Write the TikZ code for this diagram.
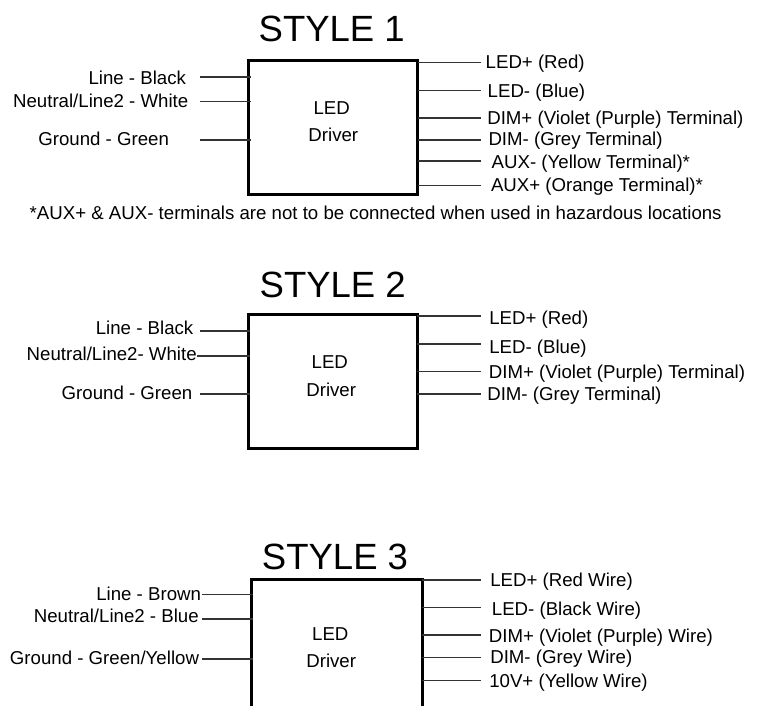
\documentclass[tikz,border=0pt]{standalone}
\usepackage{fontspec}
\setmainfont{Liberation Sans}
\tikzset{
  x=1pt,y=-1pt,
  lbl/.style={inner sep=0pt,outer sep=0pt,font=\fontsize{18.65}{20}\selectfont,text height=13.35pt,text depth=0pt},
  rlbl/.style={lbl,anchor=west},
  llbl/.style={lbl,anchor=east},
  ttl/.style={inner sep=0pt,font=\fontsize{36.5}{40}\selectfont,text height=26.2pt,text depth=0pt},
  driver/.style={draw,line width=3pt,anchor=north west,inner sep=0pt,outer sep=0pt,minimum width=169pt,minimum height=134pt},
  wire/.style={line width=1.6pt,black!80},
  lwire/.style={wire,shorten >=-2pt}
}
\begin{document}
\begin{tikzpicture}
\useasboundingbox (0,0) rectangle (761,706);
\clip (0,0) rectangle (761,706);
% STYLE 1
\node[ttl] (t1) at (331.7,28) {STYLE 1};
\node[driver] (b1) at (248.7,60.7) {};
\node[lbl] (b1a) at (331.7,107.7) {LED};
\node[lbl] (b1b) at (333.3,135) {Driver};
\node[llbl] (l11) at (186,77.7) {Line - Black};
\node[llbl] (l12) at (188.3,100.7) {Neutral/Line2 - White};
\node[llbl] (l13) at (169,138.7) {Ground - Green};
\coordinate (lw11) at (200,77.3);
\coordinate (lw12) at (200,101.7);
\coordinate (lw13) at (200,140);
\draw[lwire] (lw11) -- (lw11 -| b1.west);
\draw[lwire] (lw12) -- (lw12 -| b1.west);
\draw[lwire] (lw13) -- (lw13 -| b1.west);
\node[rlbl] (r11) at (485.7,62) {LED+ (Red)};
\node[rlbl] (r12) at (487.7,90.7) {LED- (Blue)};
\node[rlbl] (r13) at (487.3,118.3) {DIM+ (Violet (Purple) Terminal)};
\node[rlbl] (r14) at (488.5,139.3) {DIM- (Grey Terminal)};
\node[rlbl] (r15) at (491.7,161.7) {AUX- (Yellow Terminal)*};
\node[rlbl] (r16) at (491,185) {AUX+ (Orange Terminal)*};
\coordinate (rw11) at (480.7,62.7);
\coordinate (rw12) at (480.7,90.7);
\coordinate (rw13) at (480.7,118);
\coordinate (rw14) at (480.7,140);
\coordinate (rw15) at (480.7,161.3);
\coordinate (rw16) at (480.7,185.7);
\draw[wire] (b1.east |- rw11) -- (rw11);
\draw[wire] (b1.east |- rw12) -- (rw12);
\draw[wire] (b1.east |- rw13) -- (rw13);
\draw[wire] (b1.east |- rw14) -- (rw14);
\draw[wire] (b1.east |- rw15) -- (rw15);
\draw[wire] (b1.east |- rw16) -- (rw16);
\node[rlbl] (note) at (29.7,213.3) {*AUX+ \& AUX- terminals are not to be connected when used in hazardous locations};
% STYLE 2
\node[ttl] (t2) at (332.7,284) {STYLE 2};
\node[driver] (b2) at (248.3,314.3) {};
\node[lbl] (b2a) at (329.8,361.7) {LED};
\node[lbl] (b2b) at (331.2,390) {Driver};
\node[llbl] (l21) at (193.3,327.7) {Line - Black};
\node[llbl] (l22) at (196.7,354) {Neutral/Line2- White};
\node[llbl] (l23) at (192.3,392.7) {Ground - Green};
\coordinate (lw21) at (200,330.7);
\coordinate (lw22) at (197.3,355.7);
\coordinate (lw23) at (200,394);
\draw[lwire] (lw21) -- (lw21 -| b2.west);
\draw[lwire] (lw22) -- (lw22 -| b2.west);
\draw[lwire] (lw23) -- (lw23 -| b2.west);
\node[rlbl] (r21) at (489.3,318.3) {LED+ (Red)};
\node[rlbl] (r22) at (489.3,347.3) {LED- (Blue)};
\node[rlbl] (r23) at (488.9,371.7) {DIM+ (Violet (Purple) Terminal)};
\node[rlbl] (r24) at (487.3,394.3) {DIM- (Grey Terminal)};
\coordinate (rw21) at (480.7,316);
\coordinate (rw22) at (480.7,344);
\coordinate (rw23) at (480.7,371.3);
\coordinate (rw24) at (480.7,394);
\draw[wire] (b2.east |- rw21) -- (rw21);
\draw[wire] (b2.east |- rw22) -- (rw22);
\draw[wire] (b2.east |- rw23) -- (rw23);
\draw[wire] (b2.east |- rw24) -- (rw24);
% STYLE 3
\node[ttl] (t3) at (335,556) {STYLE 3};
\node[driver,minimum width=171pt] (b3) at (251,579.7) {};
\node[lbl] (b3a) at (330.3,634) {LED};
\node[lbl] (b3b) at (331.2,661) {Driver};
\node[llbl] (l31) at (201,594.3) {Line - Brown};
\node[llbl] (l32) at (198.7,615.7) {Neutral/Line2 - Blue};
\node[llbl] (l33) at (199,658.3) {Ground - Green/Yellow};
\coordinate (lw31) at (202.3,594.3);
\coordinate (lw32) at (202.3,618.7);
\coordinate (lw33) at (202.3,659);
\draw[lwire] (lw31) -- (lw31 -| b3.west);
\draw[lwire] (lw32) -- (lw32 -| b3.west);
\draw[lwire] (lw33) -- (lw33 -| b3.west);
\node[rlbl] (r31) at (490.3,580) {LED+ (Red Wire)};
\node[rlbl] (r32) at (491.9,609) {LED- (Black Wire)};
\node[rlbl] (r33) at (488.9,635.7) {DIM+ (Violet (Purple) Wire)};
\node[rlbl] (r34) at (490.3,656.7) {DIM- (Grey Wire)};
\node[rlbl] (r35) at (489.3,681) {10V+ (Yellow Wire)};
\coordinate (rw31) at (480.7,580);
\coordinate (rw32) at (480.7,607.3);
\coordinate (rw33) at (480.7,635);
\coordinate (rw34) at (480.7,657.3);
\coordinate (rw35) at (480.7,680.3);
\draw[wire] (b3.east |- rw31) -- (rw31);
\draw[wire] (b3.east |- rw32) -- (rw32);
\draw[wire] (b3.east |- rw33) -- (rw33);
\draw[wire] (b3.east |- rw34) -- (rw34);
\draw[wire] (b3.east |- rw35) -- (rw35);
\end{tikzpicture}
\end{document}
